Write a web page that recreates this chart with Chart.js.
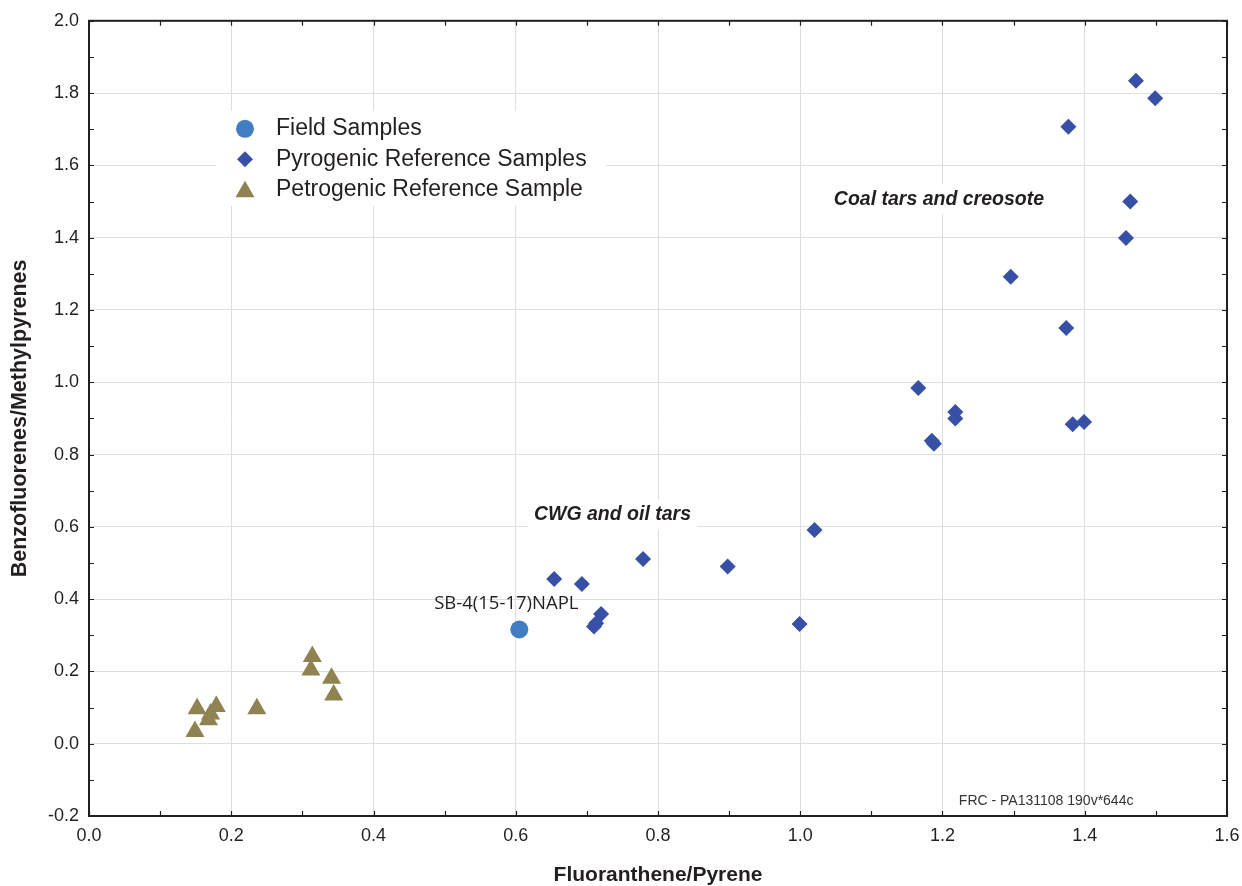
<!DOCTYPE html>
<html>
<head>
<meta charset="utf-8">
<title>Fluoranthene/Pyrene vs Benzofluorenes/Methylpyrenes</title>
<script src="https://cdn.jsdelivr.net/npm/chart.js@4/dist/chart.umd.min.js"></script>
<style>
  body { margin: 0; background: #fff; }
  #wrap { width: 1242px; height: 886px; }
</style>
</head>
<body>
<div id="wrap"><canvas id="chart" width="1242" height="886"></canvas></div>
<script>
// data
const fieldX = [0.605];
const fieldY = [0.316];
const fieldLabels = ['SB-4(15-17)NAPL'];

const pyroX = [1.472, 1.499, 1.377, 1.464, 1.458, 1.296, 1.374, 1.166, 1.218, 1.218, 1.185, 1.188,
  1.383, 1.399, 1.020, 0.779, 0.898, 0.654, 0.693, 0.720, 0.713, 0.710, 0.999];
const pyroY = [1.834, 1.786, 1.707, 1.500, 1.399, 1.292, 1.150, 0.984, 0.918, 0.900, 0.838, 0.830,
  0.884, 0.890, 0.591, 0.511, 0.490, 0.456, 0.442, 0.359, 0.333, 0.324, 0.331];

const petroX = [0.314, 0.312, 0.341, 0.344, 0.236, 0.152, 0.179, 0.171, 0.168, 0.149];
const petroY = [0.241, 0.204, 0.181, 0.135, 0.097, 0.097, 0.103, 0.082, 0.066, 0.034];

const seriesNames = ['Field Samples', 'Pyrogenic Reference Samples', 'Petrogenic Reference Sample'];
const seriesColors = ['#417dc3', '#3750a5', '#8f8352'];
const seriesShapes = ['circle', 'rectRot', 'triangle'];
const seriesSizes = [9, 8, 11];

// text notes placed in data units
const notes = [
  { text: 'Coal tars and creosote', x: 1.195, y: 1.506 },
  { text: 'CWG and oil tars', x: 0.736, y: 0.633 }
];
const stamp = { text: 'FRC - PA131108 190v*644c', x: 1.223, y: -0.159 };

const xMin = 0, xMax = 1.6, yMin = -0.2, yMax = 2.0;

function toPoints(xs, ys) {
  return xs.map((x, i) => ({ x: x, y: ys[i] }));
}

const textColor = '#231f20';

// frame, inward minor ticks, notes and legend
const extras = {
  id: 'extras',
  afterDraw(chart) {
    const ctx = chart.ctx;
    const a = chart.chartArea;
    const xs = chart.scales.x, ys = chart.scales.y;
    ctx.save();

    // minor ticks every 0.1 on all four sides
    ctx.strokeStyle = textColor;
    ctx.lineWidth = 1.2;
    ctx.beginPath();
    for (let i = 0; i <= 16; i++) {
      const px = Math.round(xs.getPixelForValue(i / 10)) + 0.5;
      ctx.moveTo(px, a.bottom); ctx.lineTo(px, a.bottom - 5);
      ctx.moveTo(px, a.top); ctx.lineTo(px, a.top + 5);
    }
    for (let i = -2; i <= 20; i++) {
      const py = Math.round(ys.getPixelForValue(i / 10)) + 0.5;
      ctx.moveTo(a.left, py); ctx.lineTo(a.left + 5, py);
      ctx.moveTo(a.right, py); ctx.lineTo(a.right - 5, py);
    }
    ctx.stroke();

    // frame
    ctx.lineWidth = 2;
    ctx.strokeRect(a.left, a.top, a.right - a.left, a.bottom - a.top);

    // group notes with white box behind
    ctx.font = 'italic bold 19.5px "Liberation Sans", Arial, sans-serif';
    ctx.textAlign = 'center';
    ctx.textBaseline = 'middle';
    notes.forEach(n => {
      const px = xs.getPixelForValue(n.x), py = ys.getPixelForValue(n.y);
      const w = ctx.measureText(n.text).width;
      ctx.fillStyle = '#fff';
      ctx.fillRect(px - w / 2 - 6, py - 15, w + 12, 30);
      ctx.fillStyle = textColor;
      ctx.fillText(n.text, px, py);
    });

    // field sample label
    ctx.font = '18.5px "Open Sans", sans-serif';
    fieldX.forEach((x, i) => {
      const px = xs.getPixelForValue(x), py = ys.getPixelForValue(fieldY[i]);
      ctx.fillText(fieldLabels[i], px - 13, py - 26);
    });

    // stamp
    ctx.font = '14px "Liberation Sans", Arial, sans-serif';
    ctx.textAlign = 'left';
    ctx.fillStyle = '#333';
    ctx.fillText(stamp.text, xs.getPixelForValue(stamp.x), ys.getPixelForValue(stamp.y));

    // legend
    const lx = a.left + 127, ly = a.top + 90;
    ctx.fillStyle = '#fff';
    ctx.fillRect(lx, ly, 390, 95);
    ctx.font = '23px "Liberation Sans", Arial, sans-serif';
    ctx.textBaseline = 'middle';
    seriesNames.forEach((name, i) => {
      const cy = ly + 18 + i * 30.5;
      ctx.fillStyle = seriesColors[i];
      ctx.strokeStyle = seriesColors[i];
      Chart.helpers.drawPoint(ctx, { pointStyle: seriesShapes[i], radius: seriesSizes[i], rotation: 0, borderWidth: 0 }, lx + 29, cy + (i === 2 ? 2 : 0));
      ctx.fillStyle = textColor;
      ctx.fillText(name, lx + 60, cy);
    });

    ctx.restore();
  }
};

new Chart(document.getElementById('chart').getContext('2d'), {
  type: 'scatter',
  data: {
    datasets: [
      { label: seriesNames[0], data: toPoints(fieldX, fieldY) },
      { label: seriesNames[1], data: toPoints(pyroX, pyroY) },
      { label: seriesNames[2], data: toPoints(petroX, petroY) }
    ].map((d, i) => Object.assign(d, {
      pointStyle: seriesShapes[i],
      pointRadius: seriesSizes[i],
      pointHoverRadius: seriesSizes[i],
      backgroundColor: seriesColors[i],
      borderColor: seriesColors[i],
      borderWidth: 0
    }))
  },
  options: {
    responsive: false,
    animation: false,
    layout: { padding: { top: 19, right: 15, left: 0, bottom: 0 } },
    plugins: { legend: { display: false }, tooltip: { enabled: false } },
    scales: {
      x: {
        type: 'linear',
        min: xMin, max: xMax,
        afterFit: s => { s.height = 70; s.paddingRight = 0; s.paddingLeft = 0; },
        ticks: {
          stepSize: 0.2, padding: 9, color: textColor,
          font: { family: '"Liberation Sans", Arial, sans-serif', size: 18 },
          callback: v => v.toFixed(1)
        },
        grid: { color: '#dedede', lineWidth: 1, drawTicks: false },
        border: { display: false },
        title: {
          display: true, text: 'Fluoranthene/Pyrene', color: textColor,
          font: { family: '"Liberation Sans", Arial, sans-serif', size: 21, weight: 'bold', lineHeight: 1 },
          padding: { top: 0, bottom: 0 }
        }
      },
      y: {
        type: 'linear',
        min: yMin, max: yMax,
        afterFit: s => { s.width = 89; },
        ticks: {
          stepSize: 0.2, padding: 10, color: textColor,
          font: { family: '"Liberation Sans", Arial, sans-serif', size: 18 },
          callback: v => v.toFixed(1)
        },
        grid: { color: '#dedede', lineWidth: 1, drawTicks: false },
        border: { display: false },
        title: {
          display: true, text: 'Benzofluorenes/Methylpyrenes', color: textColor,
          font: { family: '"Liberation Sans", Arial, sans-serif', size: 21.5, weight: 'bold', lineHeight: 1.2 },
          padding: { top: 7, bottom: 0 }
        }
      }
    }
  },
  plugins: [extras]
});
</script>
</body>
</html>
